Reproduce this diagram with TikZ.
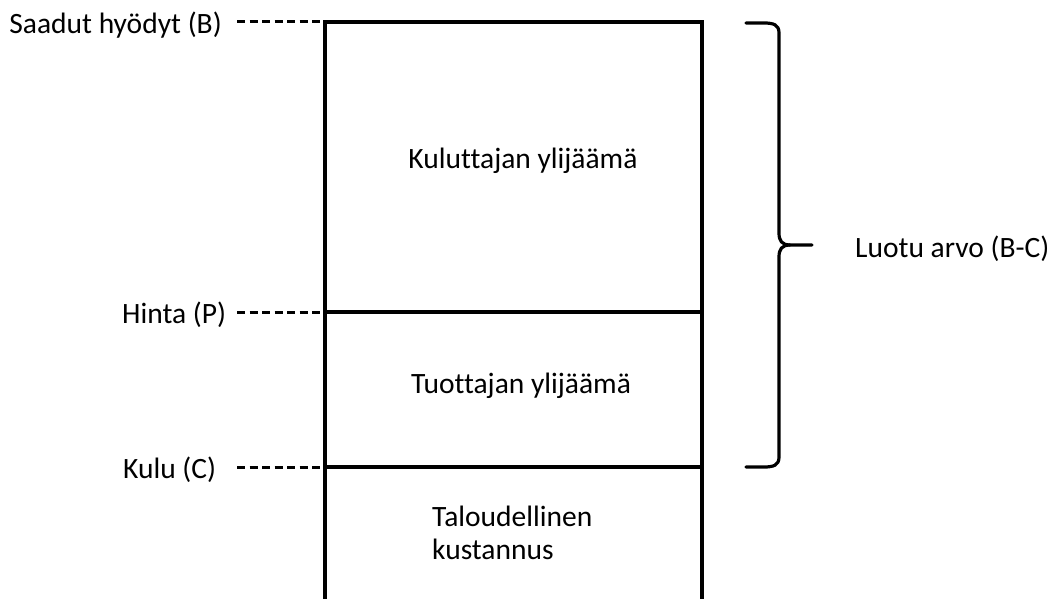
\documentclass[tikz,border=0pt]{standalone}
\usepackage{fontspec}
\setmainfont[Ligatures={NoCommon}]{Carlito}
\begin{document}
\begin{tikzpicture}[x=1pt,y=-1pt,
  frame/.style={line width=3.2pt},
  guide/.style={line width=3pt,dash pattern=on 8pt off 4.5pt},
  lbl/.style={font=\fontsize{29.5}{33}\selectfont,inner sep=0pt},
  bracepath/.style={line width=3.2pt,line cap=round,line join=round}]
\useasboundingbox (0,0) rectangle (1053,599);
% box corners and level marks
\coordinate (tl) at (325,22);
\coordinate (tr) at (702,22);
\coordinate (bl) at (325,599);
\coordinate (br) at (702,599);
\coordinate (pl) at (325,312);
\coordinate (pr) at (702,312);
\coordinate (cl) at (325,467);
\coordinate (cr) at (702,467);
% open-bottom column with price and cost levels
\draw[frame] (bl) -- (tl) -- (tr) -- (br);
\draw[frame] (pl) -- (pr);
\draw[frame] (cl) -- (cr);
% labels on the left
\node[lbl,anchor=base east] (B) at (222,34) {Saadut hyödyt (B)};
\node[lbl,anchor=base west] (P) at (122,323) {Hinta (P)};
\node[lbl,anchor=base west] (C) at (123,478) {Kulu (C)};
\coordinate (Bd) at (237,22);
\coordinate (Pd) at (237,312);
\coordinate (Cd) at (237,467);
\draw[guide] (Bd) -- (tl);
\draw[guide] (Pd) -- (pl);
\draw[guide] (Cd) -- (cl);
% areas inside the column
\node[lbl,anchor=base] (cs) at (523,168) {Kuluttajan ylijäämä};
\node[lbl,anchor=base] (ps) at (521,393) {Tuottajan ylijäämä};
\node[lbl,align=left,anchor=base west] (ec) at (432,559) {Taloudellinen\\kustannus};
% brace for the created value
\coordinate (bt) at (746,23);
\coordinate (bb) at (746,467);
\coordinate (tip) at (812,245);
\draw[bracepath] (bt) -- (764,23) .. controls (774,23) and (779,25) .. (779,33)
  -- (779,233) .. controls (779,241) and (782,245) .. (790,245) -- (tip);
\draw[bracepath] (bb) -- (764,467) .. controls (774,467) and (779,465) .. (779,457)
  -- (779,257) .. controls (779,249) and (782,245) .. (790,245);
\node[lbl,anchor=base west] (V) at (855,257) {Luotu arvo (B-C)};
\end{tikzpicture}
\end{document}
